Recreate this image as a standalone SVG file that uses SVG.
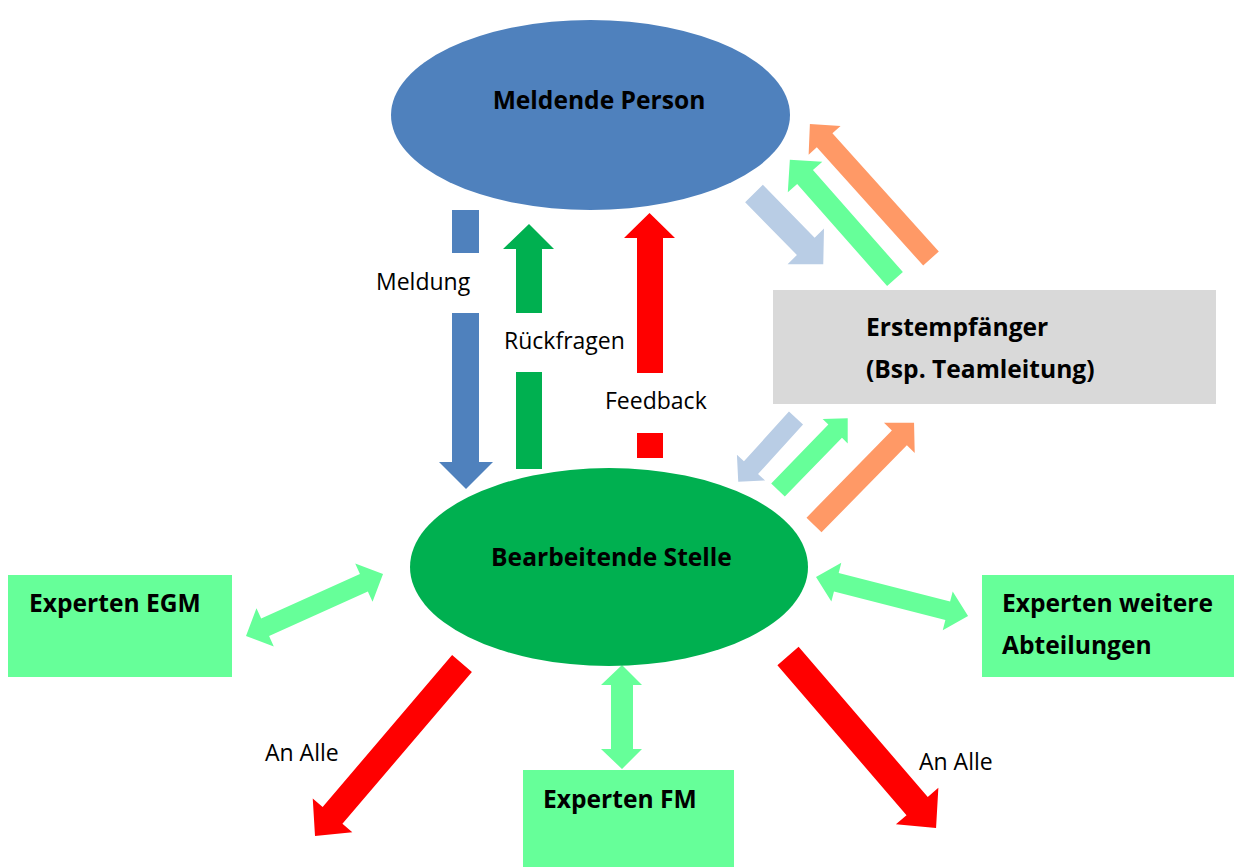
<svg xmlns="http://www.w3.org/2000/svg" width="1234" height="867" viewBox="0 0 1234 867">
<style>
text{font-family:"Open Sans","Liberation Sans",sans-serif;fill:#000}
.b{font-weight:bold;font-size:24.6px}
.r{font-size:23px}
.exp{fill:#66ff99}
.lb{fill:#b9cde5}.lg{fill:#66ff99}.or{fill:#ff9966}.rd{fill:#ff0000}.gr{fill:#00b050}.bl{fill:#4f81bd}
</style>
<rect width="1234" height="867" fill="#fff"/>
<g id="connectors">
<polygon class="bl" points="452,210 479,210 479,462 493,462 466,489 439,462 452,462"/>
<polygon class="gr" points="529,224 554,249 542,249 542,469 516,469 516,249 503,249"/>
<polygon class="rd" points="649.5,213 675,238 663,238 663,458 637,458 637,238 624,238"/>
<path class="lb" transform="translate(754,193.5) rotate(45.6)" d="M0,-12.4 L74,-12.4 L74,-25.5 L99,0 L74,25.5 L74,12.4 L0,12.4Z"/>
<path class="lg" transform="translate(895,279) rotate(-131.4)" d="M0,-10.5 L136,-10.5 L136,-23 L159,0 L136,23 L136,10.5 L0,10.5Z"/>
<path class="or" transform="translate(931,258.5) rotate(-132)" d="M0,-10.5 L159,-10.5 L159,-21.5 L181,0 L159,21.5 L159,10.5 L0,10.5Z"/>
<path class="lb" transform="translate(796,418) rotate(132.2)" d="M0,-9.5 L67,-9.5 L67,-19 L86,0 L67,19 L67,9.5 L0,9.5Z"/>
<path class="lg" transform="translate(778,490) rotate(-45.8)" d="M0,-9.5 L82,-9.5 L82,-17.5 L100,0 L82,17.5 L82,9.5 L0,9.5Z"/>
<path class="or" transform="translate(814,525) rotate(-45.6)" d="M0,-10.5 L122,-10.5 L122,-21.5 L143,0 L122,21.5 L122,10.5 L0,10.5Z"/>
<path class="lg" transform="translate(246,636) rotate(-24.35)" d="M0,0 L21,-21 L21,-9.6 L129.4,-9.6 L129.4,-21 L150.4,0 L129.4,21 L129.4,9.6 L21,9.6 L21,21Z"/>
<path class="lg" transform="translate(816,577) rotate(14.4)" d="M0,0 L21,-20 L21,-9.5 L136,-9.5 L136,-20 L157,0 L136,20 L136,9.5 L21,9.5 L21,20Z"/>
<polygon class="lg" points="622,665 642,685 633,685 633,749 642,749 622,769 601,749 611,749 611,685 601,685"/>
<path class="rd" transform="translate(462,663.5) rotate(130.44)" d="M0,-13 L199.6,-13 L199.6,-26 L226.6,0 L199.6,26 L199.6,13 L0,13Z"/>
<path class="rd" transform="translate(788,656) rotate(49.29)" d="M0,-14 L198,-14 L198,-28 L227,0 L198,28 L198,14 L0,14Z"/>
<rect x="366" y="253" width="120" height="60" fill="#fff"/>
<rect x="497" y="313" width="134" height="59" fill="#fff"/>
<rect x="598" y="373" width="114" height="60" fill="#fff"/>
<text class="r" x="376" y="290">Meldung</text>
<text class="r" x="504" y="349">Rückfragen</text>
<text class="r" x="605" y="409">Feedback</text>
<text class="r" x="265" y="761">An Alle</text>
<text class="r" x="919" y="770">An Alle</text>
</g>
<g id="meldende">
<ellipse cx="590.5" cy="115" rx="199.5" ry="95" fill="#4f81bd"/>
<text class="b" x="599" y="109" text-anchor="middle">Meldende Person</text>
</g>
<g id="bearbeitende">
<ellipse cx="609" cy="567" rx="199" ry="99" fill="#00b050"/>
<text class="b" x="611.5" y="566" text-anchor="middle">Bearbeitende Stelle</text>
</g>
<g id="erstempfaenger">
<rect x="773" y="290" width="443" height="114" fill="#d9d9d9"/>
<text class="b" x="866" y="336">Erstempfänger</text>
<text class="b" x="866" y="378">(Bsp. Teamleitung)</text>
</g>
<g id="egm">
<rect class="exp" x="8" y="575" width="224" height="102"/>
<text class="b" x="29" y="612">Experten EGM</text>
</g>
<g id="weitere">
<rect class="exp" x="982" y="575" width="252" height="102"/>
<text class="b" x="1002" y="612">Experten weitere</text>
<text class="b" x="1002" y="654">Abteilungen</text>
</g>
<g id="fm">
<rect class="exp" x="523" y="770" width="211" height="97"/>
<text class="b" x="543" y="808">Experten FM</text>
</g>
</svg>
